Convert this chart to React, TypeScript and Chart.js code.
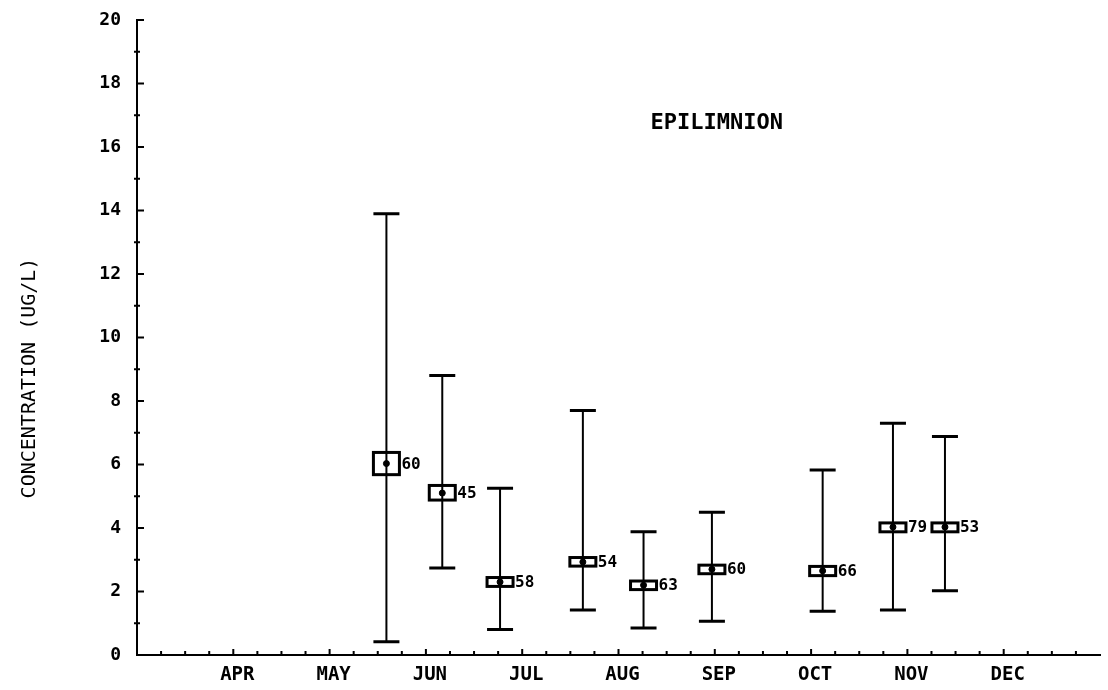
import React, { useEffect, useRef } from "react";
import { Chart, registerables } from "chart.js";

Chart.register(...registerables);

// x positions in months after 1 March (1 = APR ... 9 = DEC)
const monthLabels = ["", "APR", "MAY", "JUN", "JUL", "AUG", "SEP", "OCT", "NOV", "DEC", ""];
const sampleTime = [2.59, 3.17, 3.77, 4.63, 5.26, 5.97, 7.12, 7.85, 8.39];
const meanValues = [6.03, 5.1, 2.3, 2.93, 2.2, 2.7, 2.65, 4.03, 4.03];
const maxValues = [13.9, 8.8, 5.25, 7.7, 3.88, 4.5, 5.83, 7.3, 6.88];
const minValues = [0.42, 2.74, 0.8, 1.42, 0.85, 1.06, 1.38, 1.42, 2.02];
const boxLow = [5.68, 4.88, 2.16, 2.8, 2.06, 2.56, 2.5, 3.88, 3.88];
const boxHigh = [6.38, 5.34, 2.44, 3.07, 2.33, 2.83, 2.79, 4.16, 4.16];
const sampleCounts = ["60", "45", "58", "54", "63", "60", "66", "79", "53"];
const yTicks = [0, 2, 4, 6, 8, 10, 12, 14, 16, 18, 20];
const chartTitle = "EPILIMNION";
const yTitle = "CONCENTRATION (UG/L)";

const MONO = "'DejaVu Sans Mono', 'Liberation Mono', monospace";

const errorBoxPlugin = {
  id: "errorBoxes",
  beforeDatasetsDraw(chart: any) {
    const ctx = chart.ctx;
    const xs = chart.scales.x;
    const ys = chart.scales.y;
    ctx.save();
    ctx.strokeStyle = "#000";
    ctx.fillStyle = "#000";
    for (let i = 0; i < sampleTime.length; i++) {
      const x = xs.getPixelForValue(sampleTime[i]);
      const yTop = ys.getPixelForValue(maxValues[i]);
      const yBot = ys.getPixelForValue(minValues[i]);
      const capHalf = 13;
      ctx.lineWidth = 2;
      ctx.beginPath();
      ctx.moveTo(x, yTop);
      ctx.lineTo(x, yBot);
      ctx.stroke();
      ctx.lineWidth = 3;
      ctx.beginPath();
      ctx.moveTo(x - capHalf, yTop);
      ctx.lineTo(x + capHalf, yTop);
      ctx.moveTo(x - capHalf, yBot);
      ctx.lineTo(x + capHalf, yBot);
      ctx.stroke();
      const bTop = ys.getPixelForValue(boxHigh[i]);
      const bBot = ys.getPixelForValue(boxLow[i]);
      ctx.lineWidth = 3;
      ctx.strokeRect(x - 13, bTop, 26, bBot - bTop);
      ctx.font = `bold 16px ${MONO}`;
      ctx.textAlign = "left";
      ctx.textBaseline = "middle";
      ctx.fillText(sampleCounts[i], x + 15, ys.getPixelForValue(meanValues[i]) + 1);
    }
    ctx.restore();
  },
  afterDraw(chart: any) {
    const ctx = chart.ctx;
    const xs = chart.scales.x;
    const ys = chart.scales.y;
    const left = chart.chartArea.left;
    const bottom = chart.chartArea.bottom;
    ctx.save();
    ctx.strokeStyle = "#000";
    ctx.lineWidth = 2;
    ctx.beginPath();
    for (let v = 0; v <= 20; v++) {
      const y = ys.getPixelForValue(v);
      if (v % 2 === 0) {
        ctx.moveTo(left - 1, y);
        ctx.lineTo(left + 7, y);
      } else {
        ctx.moveTo(left - 3, y);
        ctx.lineTo(left + 3, y);
      }
    }
    for (let k = 1; k < 40; k++) {
      const v = k / 4;
      const x = xs.getPixelForValue(v);
      const len = k % 4 === 0 ? 6 : 4;
      ctx.moveTo(x, bottom);
      ctx.lineTo(x, bottom - len);
    }
    ctx.stroke();
    ctx.fillStyle = "#000";
    ctx.font = `bold 22px ${MONO}`;
    ctx.textAlign = "center";
    ctx.textBaseline = "middle";
    ctx.fillText(chartTitle, xs.getPixelForValue(6.02), ys.getPixelForValue(16.75));
    // y-axis title
    ctx.translate(30, 378);
    ctx.rotate(-Math.PI / 2);
    ctx.font = `20px ${MONO}`;
    ctx.fillText(yTitle, 0, 0);
    ctx.restore();
  },
};

export default function App() {
  const canvasRef = useRef<HTMLCanvasElement | null>(null);

  useEffect(() => {
    if (!canvasRef.current) return;
    const chart = new Chart(canvasRef.current, {
      type: "scatter",
      data: {
        datasets: [
          {
            label: "mean",
            data: sampleTime.map((t, i) => ({ x: t, y: meanValues[i] })),
            pointRadius: 3,
            pointBackgroundColor: "#000",
            pointBorderColor: "#000",
            showLine: false,
          },
        ],
      },
      options: {
        animation: false,
        responsive: true,
        maintainAspectRatio: false,
        layout: { padding: { left: 0, right: 8, top: 20, bottom: 0 } },
        plugins: {
          legend: { display: false },
          tooltip: { enabled: false },
          title: { display: false },
        },
        scales: {
          x: {
            type: "linear",
            min: 0,
            max: 10,
            grid: { display: false },
            border: { display: true, color: "#000", width: 2 },
            ticks: {
              stepSize: 1,
              autoSkip: false,
              maxRotation: 0,
              padding: 1,
              labelOffset: 4,
              color: "#000",
              font: { family: MONO, size: 19, weight: "bold" },
              callback: (v: any) => monthLabels[Math.round(Number(v))] ?? "",
            },
            afterFit: (scale: any) => {
              scale.height = 35;
            },
          },
          y: {
            type: "linear",
            min: 0,
            max: 20,
            grid: { display: false },
            border: { display: true, color: "#000", width: 2 },
            afterBuildTicks: (scale: any) => {
              scale.ticks = yTicks.map((v) => ({ value: v }));
            },
            ticks: {
              padding: 8,
              color: "#000",
              font: { family: MONO, size: 18, weight: "bold" },
            },
            afterFit: (scale: any) => {
              scale.width = 137;
            },
          },
        },
      },
      plugins: [errorBoxPlugin],
    });
    return () => chart.destroy();
  }, []);

  return (
    <div style={{ position: "fixed", left: 0, top: 0, width: 1108, height: 690, background: "#fff" }}>
      <canvas ref={canvasRef} />
    </div>
  );
}
